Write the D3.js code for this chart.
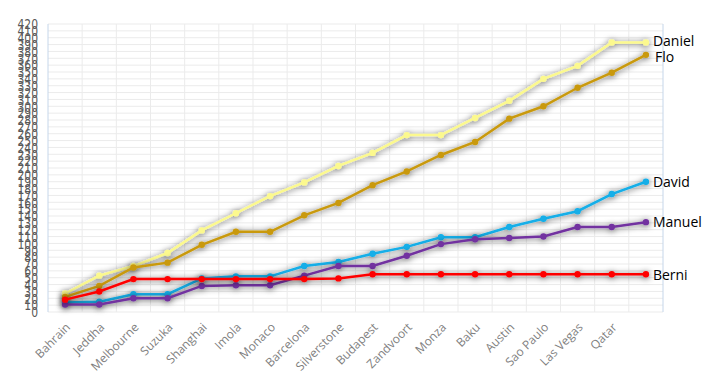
<!DOCTYPE html>
<html>
<head>
<meta charset="utf-8">
<script src="https://cdnjs.cloudflare.com/ajax/libs/d3/7.8.5/d3.min.js"></script>
<style>
body { margin:0; background:#fff; }
svg { display:block; }
</style>
</head>
<body>
<div id="wrapper"></div>
<script>
var races = ["Bahrain","Jeddha","Melbourne","Suzuka","Shanghai","Imola","Monaco","Barcelona","Silverstone","Budapest","Zandvoort","Monza","Baku","Austin","Sao Paulo","Las Vegas","Qatar",""];

var daniel = [27,53,67,86,119,144,169,189,213,232,258,258,283,308,340,359,393,393];
var flo    = [22,38,65,72,98,117,117,141,159,185,205,229,248,282,300,327,349,375];
var david  = [14,15,26,26,49,52,52,67,73,85,95,109,109,124,136,147,172,190];
var manuel = [11,11,20,20,38,39,39,53,67,67,82,99,106,108,110,124,124,131];
var berni  = [18,30,48,48,48,48,48,48,49,55,55,55,55,55,55,55,55,55];

var names  = ["Daniel","Flo","David","Manuel","Berni"];
var colors = ["#fcf98e","#c9990a","#12aee8","#7232a0","#fe0000"];
var yTicks = d3.range(0, 430, 10);

var w = 711, h = 383;
var m = {left:48, right:48, top:24, bottom:71};

var svg = d3.select("#wrapper").append("svg")
    .attr("width", w).attr("height", h);

// shadow like the spreadsheet glow
var defs = svg.append("defs");
var f = defs.append("filter").attr("id","shade")
    .attr("x","-10%").attr("y","-30%").attr("width","120%").attr("height","160%");
f.append("feDropShadow").attr("dx",0).attr("dy",1).attr("stdDeviation",3)
    .attr("flood-color","#000").attr("flood-opacity",0.7);

var x = d3.scaleBand().domain(d3.range(races.length))
    .range([m.left, w - m.right]).padding(0);
var y = d3.scaleLinear().domain([0, 420]).range([h - m.bottom, m.top]);

var g = svg.append("g");

// horizontal grid
g.selectAll("line.hg").data(yTicks).enter().append("line")
    .attr("x1", m.left).attr("x2", w - m.right)
    .attr("y1", function(d){return y(d);}).attr("y2", function(d){return y(d);})
    .attr("stroke", "#ebebeb").attr("stroke-width", 1);

// vertical grid
g.selectAll("line.vg").data(d3.range(races.length + 1)).enter().append("line")
    .attr("x1", function(i){return m.left + i*x.bandwidth();})
    .attr("x2", function(i){return m.left + i*x.bandwidth();})
    .attr("y1", y(420)).attr("y2", y(0))
    .attr("stroke", function(i){return (i==0 || i==races.length) ? "#c5d6ea" : "#ebebeb";})
    .attr("stroke-width", 1);

// y axis labels
var yAxis = d3.axisLeft(y).tickValues(yTicks).tickSize(0).tickPadding(0);
var ya = svg.append("g").attr("transform","translate(38,0)").call(yAxis);
ya.select(".domain").remove();
ya.selectAll("text").attr("fill","#595959").style("font","12px 'Liberation Sans Narrow', 'DejaVu Sans Condensed', sans-serif")
    .attr("transform","scale(1,1.1)");
ya.selectAll(".tick").attr("transform", function(d){return "translate(0,"+(y(d)+1)+")";});

// x labels
svg.selectAll("text.xl").data(races).enter().append("text")
    .attr("class","xl")
    .attr("transform", function(d,i){return "translate("+(x(i)+x.bandwidth()/2+6)+","+(y(0)+16)+") rotate(-45)";})
    .attr("text-anchor","end")
    .attr("fill","#7f7f7f")
    .style("font","12px 'Open Sans', sans-serif")
    .text(function(d){return d;});

var series = [daniel, flo, david, manuel, berni];
var line = d3.line()
    .x(function(d,i){return x(i) + x.bandwidth()/2;})
    .y(function(d){return y(d);});

var sg = svg.append("g");
series.forEach(function(s, k){
    var gg = sg.append("g").attr("filter","url(#shade)");
    gg.append("path").attr("d", line(s)).attr("fill","none")
        .attr("stroke", colors[k]).attr("stroke-width", 2.5);
    gg.selectAll("circle").data(s).enter().append("circle")
        .attr("cx", function(d,i){return x(i) + x.bandwidth()/2;})
        .attr("cy", function(d){return y(d);})
        .attr("r", 3.2).attr("fill", colors[k]);
});

// series names next to last point
var last = races.length - 1;
var labelDy = [-1, 2, 0, 0, 1];
svg.selectAll("text.nm").data(names).enter().append("text")
    .attr("x", function(d,k){return x(last) + x.bandwidth()/2 + (k==1 ? 9 : 7);})
    .attr("y", function(d,k){return y(series[k][last]) + labelDy[k];})
    .attr("dy","0.35em")
    .attr("fill","#000")
    .style("font","14px 'Open Sans', sans-serif")
    .text(function(d){return d;});
</script>
</body>
</html>
